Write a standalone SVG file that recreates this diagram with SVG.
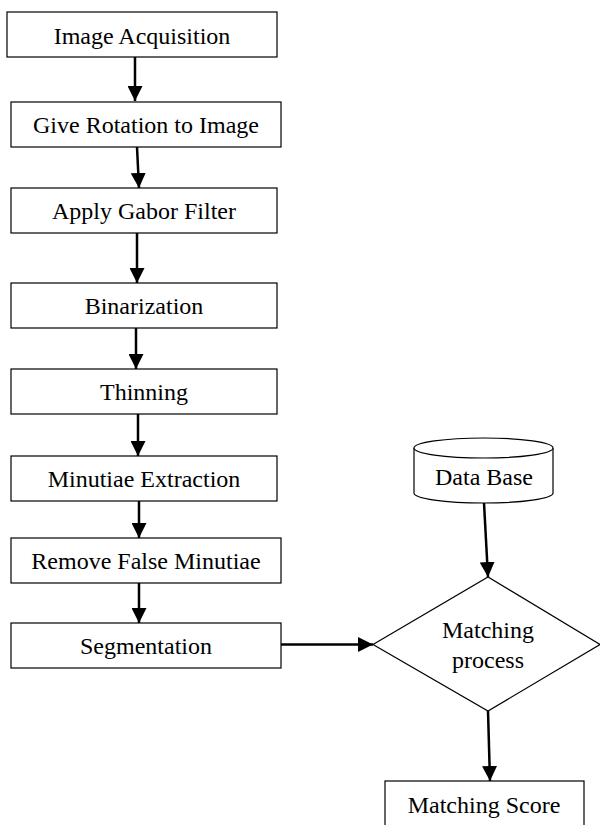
<svg xmlns="http://www.w3.org/2000/svg" width="600" height="825" viewBox="0 0 600 825">
<defs>
<style>
.box{fill:#fff;stroke:#000;stroke-width:1.2}
.lbl{font-family:"Liberation Serif","Times New Roman",serif;font-size:24px;fill:#000;text-anchor:middle}
.con{stroke:#000;stroke-width:2.5;fill:none;marker-end:url(#ah)}
</style>
<marker id="ah" viewBox="0 0 10 10" refX="10" refY="5" markerWidth="6" markerHeight="6" markerUnits="strokeWidth" orient="auto">
<path d="M0,0 L10,5 L0,10 z" fill="#000"/>
</marker>
</defs>
<rect width="600" height="825" fill="#fff"/>
<g id="connectors">
<line class="con" x1="135" y1="57" x2="135" y2="101"/>
<line class="con" x1="137" y1="147" x2="139" y2="188"/>
<line class="con" x1="137" y1="233" x2="137" y2="283"/>
<line class="con" x1="136" y1="328" x2="136" y2="369"/>
<line class="con" x1="138" y1="414" x2="138" y2="456"/>
<line class="con" x1="139" y1="501" x2="139" y2="538"/>
<line class="con" x1="139" y1="583" x2="139" y2="623"/>
<line class="con" x1="281" y1="644.5" x2="373" y2="644.5"/>
<line class="con" x1="484" y1="503" x2="488" y2="577"/>
<line class="con" x1="488" y1="711" x2="490" y2="781"/>
</g>
<g id="n1"><rect class="box" x="7" y="12" width="270" height="45"/><text class="lbl" x="142" y="43.5">Image Acquisition</text></g>
<g id="n2"><rect class="box" x="11" y="102" width="270" height="45"/><text class="lbl" x="146" y="133">Give Rotation to Image</text></g>
<g id="n3"><rect class="box" x="11" y="188" width="266" height="45"/><text class="lbl" x="144" y="219">Apply Gabor Filter</text></g>
<g id="n4"><rect class="box" x="11" y="283" width="266" height="45"/><text class="lbl" x="144" y="314">Binarization</text></g>
<g id="n5"><rect class="box" x="11" y="369" width="266" height="45"/><text class="lbl" x="144" y="400">Thinning</text></g>
<g id="n6"><rect class="box" x="11" y="456" width="266" height="45"/><text class="lbl" x="144" y="487">Minutiae Extraction</text></g>
<g id="n7"><rect class="box" x="11" y="538" width="270" height="45"/><text class="lbl" x="146" y="569">Remove False Minutiae</text></g>
<g id="n8"><rect class="box" x="11" y="623" width="270" height="45"/><text class="lbl" x="146" y="654">Segmentation</text></g>
<g id="db">
<path class="box" d="M414,448 L414,493 A69.5,10 0 0 0 553,493 L553,448"/>
<ellipse class="box" cx="483.5" cy="448" rx="69.5" ry="10"/>
<text class="lbl" x="484" y="485">Data Base</text>
</g>
<g id="match">
<polygon class="box" points="373,644.5 488,577 600,644.5 488,711"/>
<text class="lbl" x="488" y="638">Matching</text>
<text class="lbl" x="488" y="668">process</text>
</g>
<g id="score"><rect class="box" x="385" y="781" width="199" height="60"/><text class="lbl" x="484" y="813">Matching Score</text></g>
</svg>
